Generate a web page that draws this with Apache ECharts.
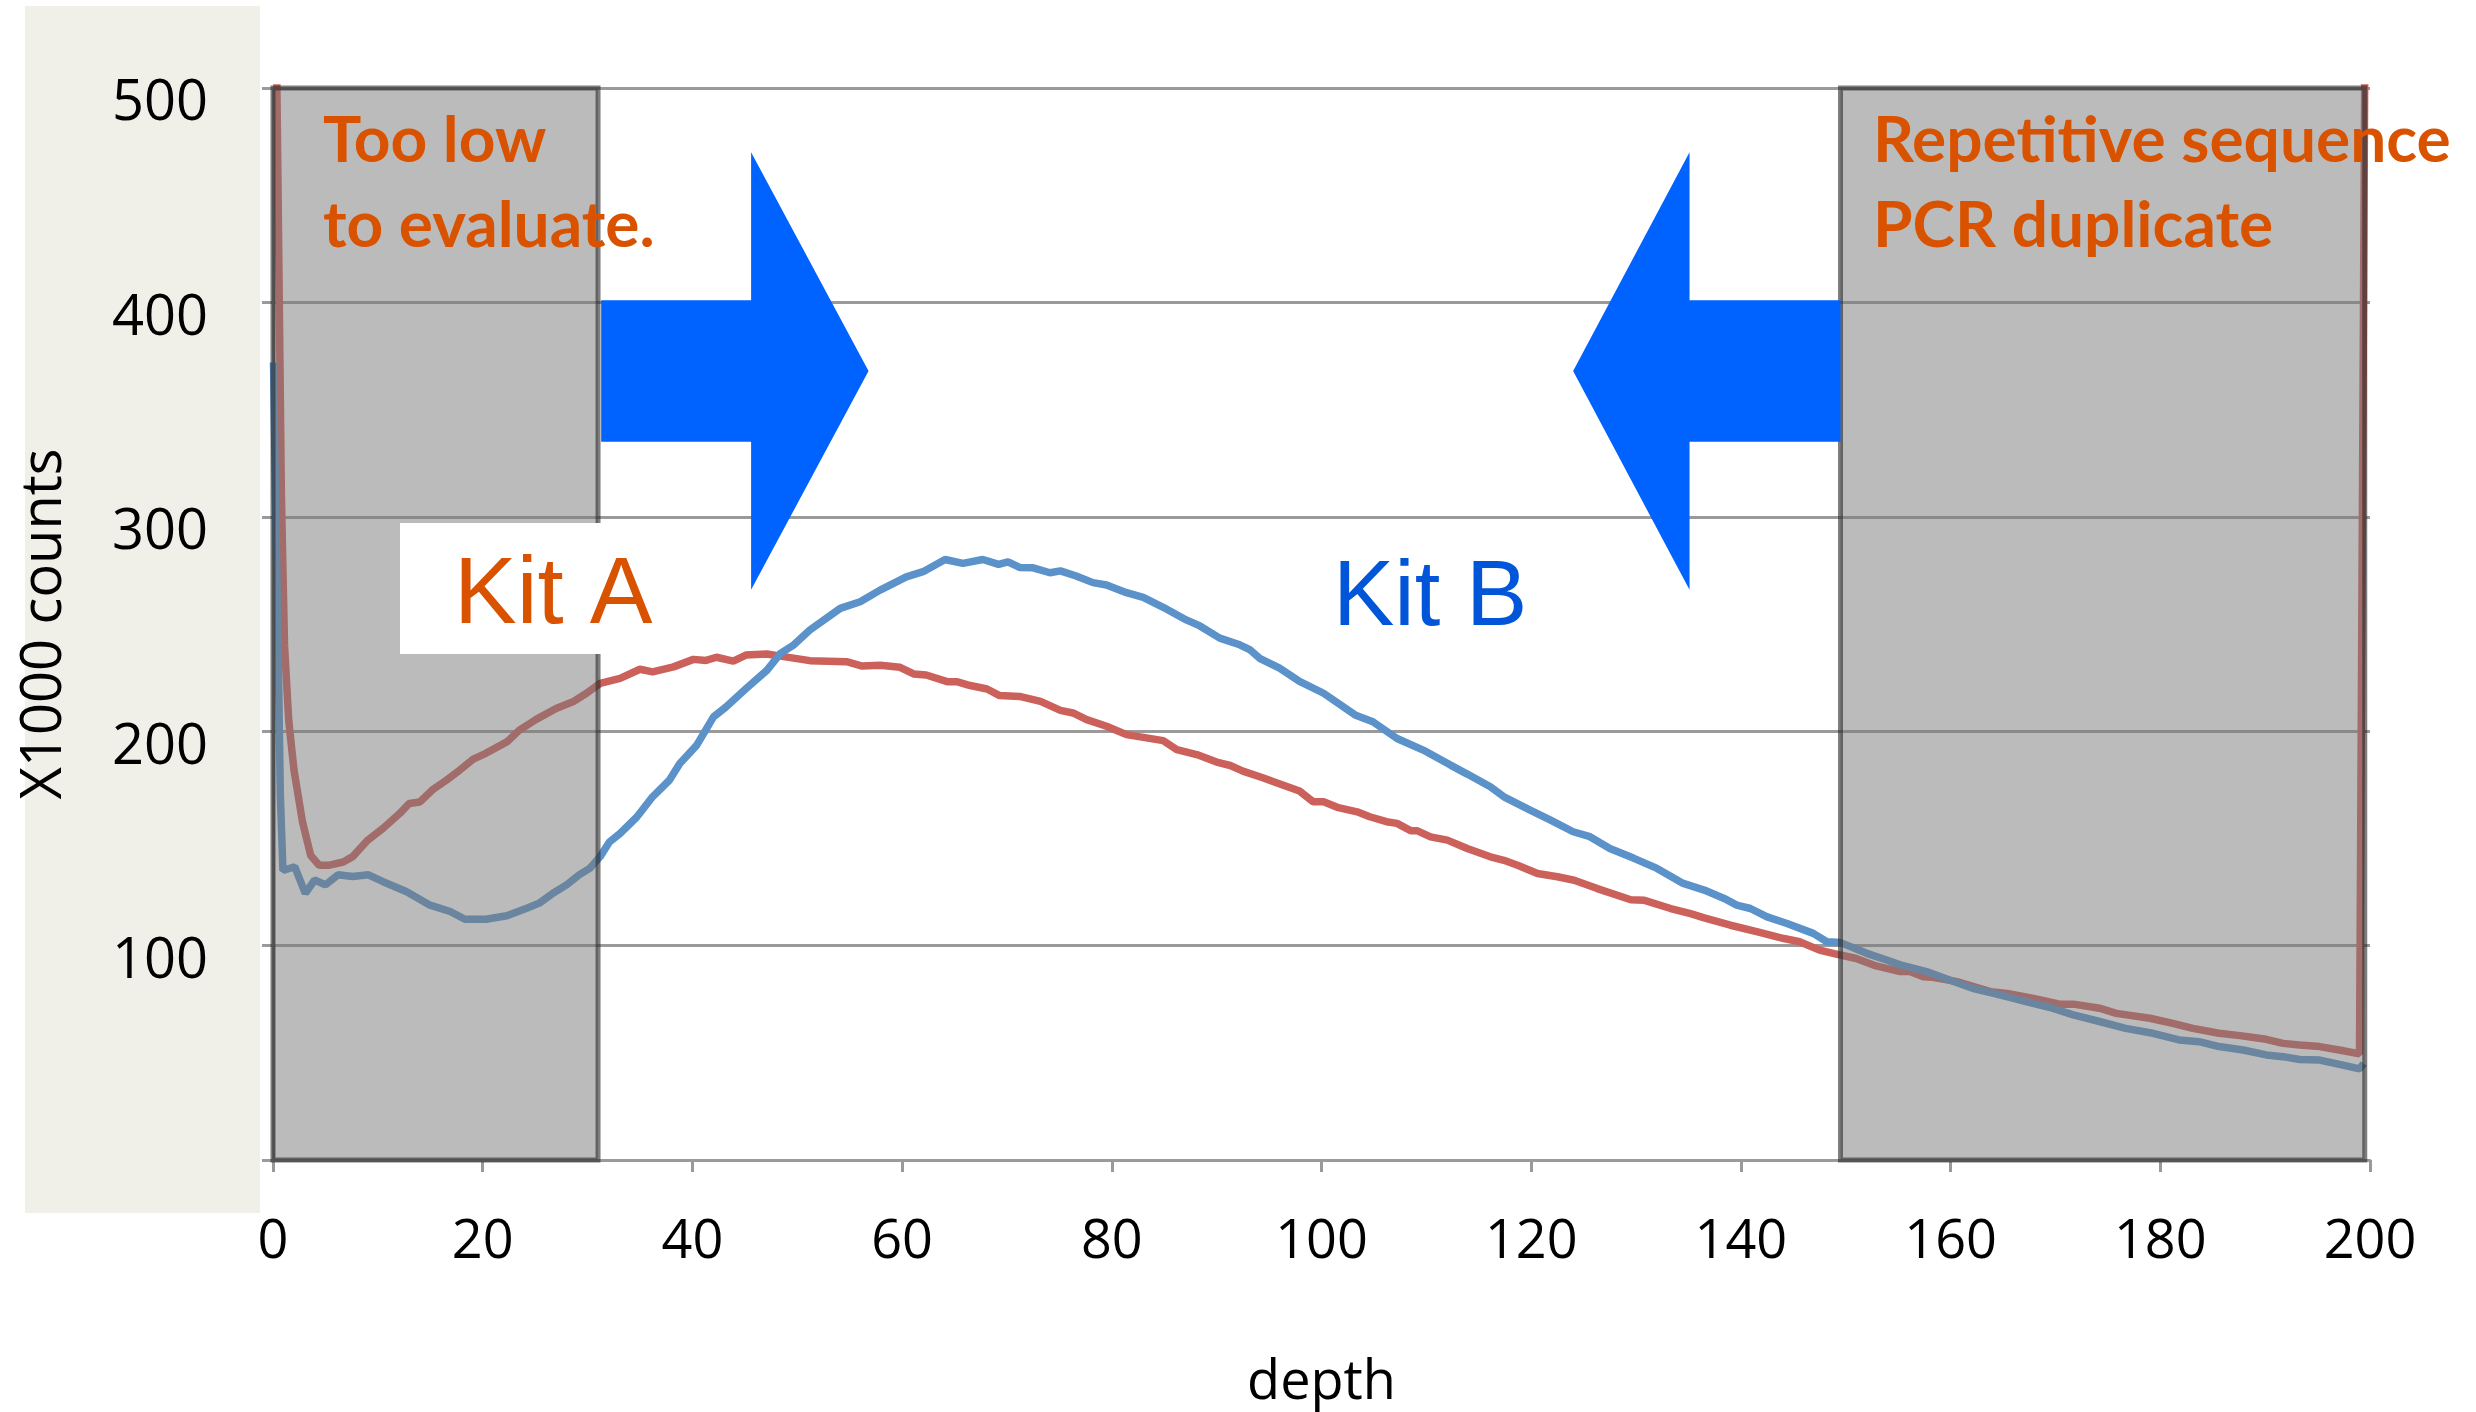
<!DOCTYPE html>
<html>
<head>
<meta charset="utf-8">
<title>Depth distribution</title>
<script src="https://cdn.jsdelivr.net/npm/echarts@6/dist/echarts.min.js"></script>
<style>
html, body { margin: 0; padding: 0; background: #ffffff; }
#depth-chart { width: 2476px; height: 1412px; }
</style>
</head>
<body>
<div id="depth-chart"></div>
<script>
// Kit A (red), counts in X1000 by depth
var kitADepth = [0.35, 0.6, 0.8, 1.1, 1.5, 2.0, 2.8, 3.6, 4.4, 5.4, 6.7, 7.6, 9.0, 10.5, 12.1, 13.0, 14.0, 15.3, 16.5, 17.8,
    19.1, 20.3, 22.3, 23.5, 25.1, 27.0, 28.6, 29.9, 31.2, 33.1, 35.0, 36.2, 38.2, 40.1, 41.3, 42.3, 43.9, 45.1, 47.1, 48.4,
    51.2, 54.7, 56.2, 57.9, 59.8, 61.1, 62.3, 64.3, 65.2, 66.5, 68.1, 69.3, 71.2, 73.2, 75.1, 76.3, 77.6, 79.5, 81.4, 83.3,
    84.9, 86.2, 88.1, 90.0, 91.3, 92.5, 94.4, 95.7, 97.9, 99.2, 100.2, 101.5, 103.4, 104.6, 106.2, 107.2, 108.5, 109.1, 110.4, 112.0,
    113.9, 116.1, 117.4, 118.7, 120.6, 122.5, 124.1, 126.3, 129.5, 130.8, 133.3, 135.2, 136.5, 139.0, 141.6, 144.1, 145.6, 147.5, 149.5, 151.0,
    152.9, 155.2, 156.1, 157.4, 158.3, 160.6, 163.8, 165.4, 167.9, 170.4, 171.7, 174.2, 175.8, 179.0, 181.2, 183.1, 185.6, 187.6, 190.1, 191.7,
    193.3, 195.2, 197.2, 199.0, 199.5];
var kitACounts = [510, 400, 310, 240, 205, 182, 158, 142, 137.5, 137.5, 139, 141.5, 149, 154.7, 161.7, 166.3, 167, 173, 177, 181.8,
    187, 189.7, 195, 200.5, 205.5, 210.6, 213.7, 217.7, 222.3, 224.6, 228.9, 227.7, 230, 233.5, 233, 234.5, 232.7, 235.5, 236, 235,
    232.9, 232.4, 230.4, 230.8, 229.8, 226.7, 226.2, 223.1, 223.1, 221.3, 219.7, 216.6, 216.2, 213.9, 209.7, 208.5, 205.4, 202.3, 198.4, 196.9,
    195.6, 191.4, 189.1, 185.6, 184, 181.4, 178.3, 176, 172.1, 167.1, 167.1, 164.5, 162.4, 160.1, 157.8, 157, 153.6, 153.6, 150.7, 149.2,
    145.3, 141.4, 139.8, 137.5, 133.6, 132.1, 130.5, 126.6, 121.4, 121.1, 117.3, 114.9, 112.9, 109.5, 106.4, 103.3, 101.8, 97.9, 95.6, 94,
    90.5, 87.9, 87.9, 85.5, 85.2, 83.2, 78.5, 77.7, 75.4, 72.7, 72.7, 70.8, 68.4, 66.1, 63.7, 61.4, 59.1, 58, 56.3, 54.4,
    53.6, 52.9, 51.2, 49.5, 510];

// Kit B (blue)
var kitBDepth = [0.05, 0.3, 0.5, 0.7, 0.95, 2.07, 3.08, 3.97, 5.0, 6.2, 7.6, 9.1, 10.5, 12.7, 14.9, 16.9, 18.3, 20.3, 22.3, 24.2,
    25.4, 26.7, 28.0, 29.2, 30.2, 31.2, 32.1, 33.1, 34.7, 36.2, 37.8, 38.8, 40.4, 42.0, 43.2, 45.1, 47.1, 48.4, 49.6, 51.2,
    54.1, 56.0, 57.9, 60.4, 62.0, 64.1, 65.8, 67.7, 69.2, 70.1, 71.2, 72.5, 74.1, 75.1, 76.6, 78.2, 79.5, 81.4, 83.0, 84.9,
    87.1, 88.4, 90.3, 92.2, 93.2, 94.1, 96.0, 97.9, 100.2, 103.2, 104.9, 107.2, 109.7, 112.3, 113.9, 116.1, 117.4, 119.9, 121.8, 124.0,
    125.6, 127.5, 129.8, 132.0, 134.5, 136.5, 138.4, 139.6, 140.9, 142.5, 144.4, 146.9, 148.2, 149.5, 152.0, 153.9, 155.2, 157.7, 159.9, 162.1,
    164.7, 167.2, 169.7, 171.7, 174.2, 176.7, 179.3, 181.8, 183.7, 185.6, 187.9, 190.1, 191.7, 193.3, 195.2, 197.2, 199.0, 199.4];
var kitBCounts = [372, 290, 235, 170, 135, 136.8, 124.4, 130.6, 128.3, 133, 132.2, 133, 129.8, 125.2, 119, 115.9, 112.3, 112.3, 113.9, 117.4,
    119.8, 124.4, 128.3, 133, 136, 141.5, 148.4, 152.3, 160, 169.4, 177.1, 184.9, 193.4, 206.6, 211.3, 219.8, 228.4, 236.3, 240, 247.2,
    257.3, 260.4, 265.8, 272, 274.4, 280.1, 278.3, 280.1, 277.8, 279, 276.4, 276.2, 273.9, 274.8, 272.4, 269.3, 268.2, 264.6, 262.4, 257.8,
    251.9, 249.1, 243.4, 240.3, 237.9, 234, 229.4, 223.2, 217.7, 207.6, 204.4, 196.6, 191.2, 184.2, 180, 174.1, 169.4, 163.2, 158.6, 153.1,
    150.8, 145.3, 140.7, 136, 129, 125.9, 122, 118.9, 117.3, 113.4, 110.3, 105.7, 101.8, 101.4, 96.4, 93.3, 91, 87.9, 84, 80.1,
    77, 73.9, 70.8, 67.7, 64.6, 61.4, 59.1, 56, 55.2, 52.9, 51.3, 49, 48.2, 46.9, 46.6, 44.5, 42.5, 45];

// shaded depth zones (too low / repetitive)
var zoneStart = [0, 149.5];
var zoneEnd = [31, 199.5];

// arrows pointing into the usable range (depth units / counts)
var arrowTail = [31.3, 149.5];
var arrowNeck = [45.6, 135.1];
var arrowTip = [56.8, 124.0];
var arrowShaft = [335, 401];
var arrowHead = [266, 470];
var arrowPoint = 368;

function pairs(xs, ys) {
    var out = [];
    for (var i = 0; i < xs.length; i++) {
        out.push([xs[i], ys[i]]);
    }
    return out;
}

var zoneData = [];
for (var i = 0; i < zoneStart.length; i++) {
    zoneData.push([zoneStart[i], zoneEnd[i]]);
}
var arrowData = [];
for (var j = 0; j < arrowTail.length; j++) {
    arrowData.push([arrowTail[j], arrowNeck[j], arrowTip[j]]);
}

var labelFont = 'Open Sans';
var noteFont = 'Lato';

var option = {
    backgroundColor: '#ffffff',
    animation: false,
    grid: {
        left: 273,
        top: 88,
        right: 106,
        bottom: 252,
        containLabel: false,
        outerBoundsMode: 'none'
    },
    xAxis: {
        type: 'value',
        min: 0,
        max: 200,
        interval: 20,
        name: 'depth',
        nameLocation: 'middle',
        nameGap: 197,
        nameTextStyle: {
            fontFamily: labelFont,
            fontSize: 54,
            color: '#000'
        },
        axisLine: {
            lineStyle: { color: '#9a9a9a', width: 3 }
        },
        axisTick: {
            length: 12,
            lineStyle: { color: '#9a9a9a', width: 3 }
        },
        axisLabel: {
            fontFamily: labelFont,
            fontSize: 54,
            color: '#000',
            margin: 56
        },
        splitLine: { show: false }
    },
    yAxis: {
        type: 'value',
        min: 0,
        max: 500,
        interval: 100,
        name: 'X1000 counts',
        nameLocation: 'middle',
        nameGap: 200,
        nameTextStyle: {
            fontFamily: labelFont,
            fontSize: 56,
            color: '#000'
        },
        axisLine: {
            show: true,
            lineStyle: { color: '#9a9a9a', width: 3 }
        },
        axisTick: {
            show: true,
            length: 11,
            lineStyle: { color: '#9a9a9a', width: 3 }
        },
        axisLabel: {
            margin: 65,
            formatter: function (v) {
                return v === 0 ? '' : '{n|' + v + '}';
            },
            rich: {
                n: {
                    fontFamily: labelFont,
                    fontSize: 56,
                    color: '#000',
                    padding: [33, 0, 0, 0]
                }
            }
        },
        splitLine: {
            lineStyle: { color: '#9a9a9a', width: 3 }
        }
    },
    series: [
        {
            name: 'Kit A',
            type: 'line',
            data: pairs(kitADepth, kitACounts),
            showSymbol: false,
            z: 2,
            lineStyle: { color: '#cb615a', width: 7.5 }
        },
        {
            name: 'Kit B',
            type: 'line',
            data: pairs(kitBDepth, kitBCounts),
            showSymbol: false,
            z: 2,
            lineStyle: { color: '#5b92c9', width: 7.5 }
        },
        {
            name: 'zones',
            type: 'custom',
            data: zoneData,
            z: 5,
            encode: { x: [0, 1] },
            renderItem: function (params, api) {
                var p0 = api.coord([api.value(0), 500]);
                var p1 = api.coord([api.value(1), 0]);
                return {
                    type: 'rect',
                    shape: { x: p0[0], y: p0[1], width: p1[0] - p0[0], height: p1[1] - p0[1] },
                    style: {
                        fill: 'rgba(119,119,119,0.5)',
                        stroke: 'rgba(40,40,40,0.6)',
                        lineWidth: 5
                    }
                };
            }
        },
        {
            name: 'arrows',
            type: 'custom',
            data: arrowData,
            z: 6,
            encode: { x: [0, 1, 2] },
            renderItem: function (params, api) {
                var tail = api.value(0), neck = api.value(1), tip = api.value(2);
                var pts = [
                    api.coord([tail, arrowShaft[1]]),
                    api.coord([neck, arrowShaft[1]]),
                    api.coord([neck, arrowHead[1]]),
                    api.coord([tip, arrowPoint]),
                    api.coord([neck, arrowHead[0]]),
                    api.coord([neck, arrowShaft[0]]),
                    api.coord([tail, arrowShaft[0]])
                ];
                return {
                    type: 'polygon',
                    shape: { points: pts },
                    style: { fill: '#0062ff' }
                };
            }
        }
    ],
    graphic: [
        {
            type: 'rect',
            z: -10,
            shape: { x: 25, y: 6, width: 235, height: 1207 },
            style: { fill: '#f0f0e8' }
        },
        {
            type: 'rect',
            z: 100,
            shape: { x: 400, y: 523, width: 201, height: 131 },
            style: { fill: '#ffffff' }
        },
        {
            type: 'text',
            z: 101,
            x: 454,
            y: 597,
            style: {
                text: 'Kit A',
                fontFamily: 'Liberation Sans',
                fontSize: 94,
                fill: '#d95200',
                verticalAlign: 'middle'
            }
        },
        {
            type: 'text',
            z: 101,
            x: 1333,
            y: 600,
            style: {
                text: 'Kit B',
                fontFamily: 'Liberation Sans',
                fontSize: 92,
                fill: '#0055d8',
                verticalAlign: 'middle'
            }
        },
        {
            type: 'text',
            z: 101,
            x: 323,
            y: 99,
            style: {
                text: 'Too low\nto evaluate.',
                fontFamily: noteFont,
                fontWeight: 'bold',
                fontSize: 64,
                lineHeight: 85,
                fill: '#d95200',
                verticalAlign: 'top'
            }
        },
        {
            type: 'text',
            z: 101,
            x: 1873,
            y: 99,
            style: {
                text: 'Repetitive sequence\nPCR duplicate',
                fontFamily: noteFont,
                fontWeight: 'bold',
                fontSize: 64,
                lineHeight: 85,
                fill: '#d95200',
                verticalAlign: 'top'
            }
        }
    ]
};

var depthChart = echarts.init(document.getElementById('depth-chart'));
depthChart.setOption(option);
</script>
</body>
</html>
